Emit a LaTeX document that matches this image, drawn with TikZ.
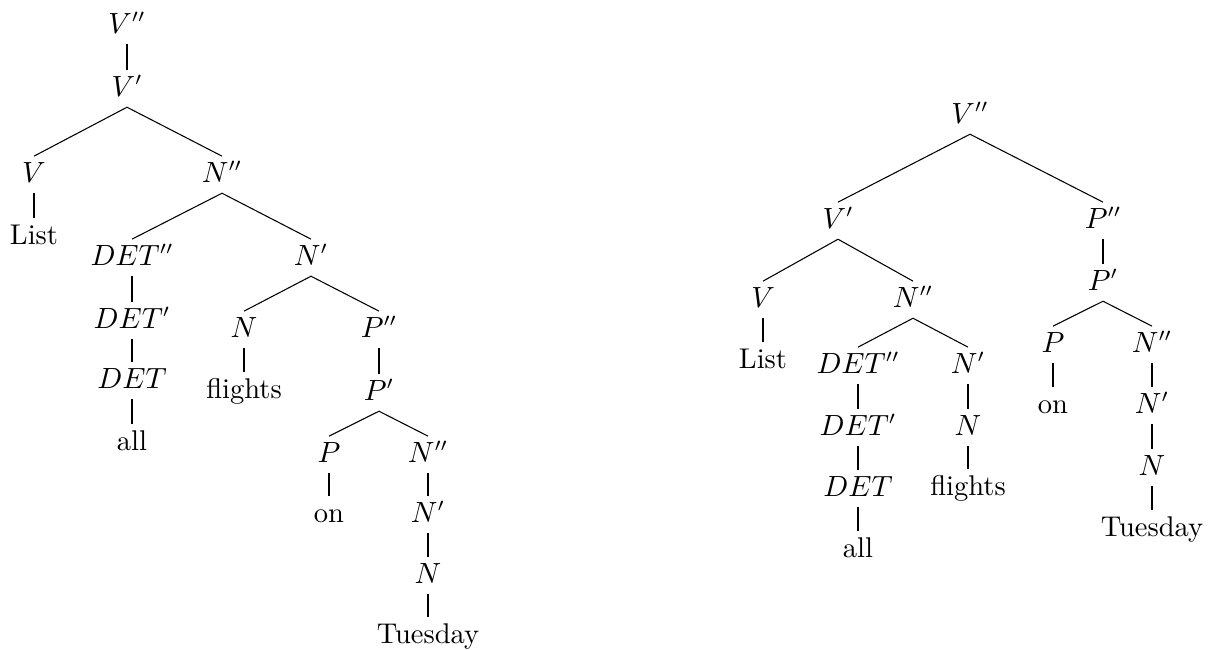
\documentclass[tikz,border=0pt]{standalone}
\begin{document}
\begin{tikzpicture}[x=0.375pt,y=-0.375pt,
  lab/.style={anchor=base, inner sep=2pt, text height=7.5pt, text depth=2pt, font=\fontsize{10.7}{12.8}\selectfont},
  edge/.style={line width=0.4pt}]
\useasboundingbox (0,0) rectangle (1210,649);
% ---------- left tree ----------
\node[lab] (a1) at (127,33) {$V''$};
\node[lab] (a2) at (127,96) {$V'$};
\node[lab] (a3) at (34,182) {$V$};
\node[lab] (a4) at (222,182) {$N''$};
\node[lab] (a5) at (34,244) {List};
\node[lab] (a6) at (132,265) {$DET''$};
\node[lab] (a7) at (311,265) {$N'$};
\node[lab] (a8) at (132,328) {$DET'$};
\node[lab] (a9) at (132,388) {$DET$};
\node[lab] (a10) at (132,450) {all};
\node[lab] (a11) at (244,337) {$N$};
\node[lab] (a12) at (379,337) {$P''$};
\node[lab] (a13) at (244,398) {flights};
\node[lab] (a14) at (379,400) {$P'$};
\node[lab] (a15) at (329,462) {$P$};
\node[lab] (a16) at (428,462) {$N''$};
\node[lab] (a17) at (329,522) {on};
\node[lab] (a18) at (428,522) {$N'$};
\node[lab] (a19) at (428,583) {$N$};
\node[lab] (a20) at (428,643) {Tuesday};
\draw[edge] (a1.south) -- (a2.north);
\draw[edge] (a2.south) -- (a3.north);
\draw[edge] (a2.south) -- (a4.north);
\draw[edge] (a3.south) -- (a5.north);
\draw[edge] (a4.south) -- (a6.north);
\draw[edge] (a4.south) -- (a7.north);
\draw[edge] (a6.south) -- (a8.north);
\draw[edge] (a8.south) -- (a9.north);
\draw[edge] (a9.south) -- (a10.north);
\draw[edge] (a7.south) -- (a11.north);
\draw[edge] (a7.south) -- (a12.north);
\draw[edge] (a11.south) -- (a13.north);
\draw[edge] (a12.south) -- (a14.north);
\draw[edge] (a14.south) -- (a15.north);
\draw[edge] (a14.south) -- (a16.north);
\draw[edge] (a15.south) -- (a17.north);
\draw[edge] (a16.south) -- (a18.north);
\draw[edge] (a18.south) -- (a19.north);
\draw[edge] (a19.south) -- (a20.north);
% ---------- right tree ----------
\node[lab] (b1) at (970,123) {$V''$};
\node[lab] (b2) at (838,228) {$V'$};
\node[lab] (b3) at (1103,228) {$P''$};
\node[lab] (b4) at (763,307) {$V$};
\node[lab] (b5) at (913,307) {$N''$};
\node[lab] (b6) at (1103,290) {$P'$};
\node[lab] (b7) at (763,368) {List};
\node[lab] (b8) at (858,373) {$DET''$};
\node[lab] (b9) at (968,373) {$N'$};
\node[lab] (b10) at (858,435) {$DET'$};
\node[lab] (b11) at (968,435) {$N$};
\node[lab] (b12) at (858,496) {$DET$};
\node[lab] (b13) at (968,495) {flights};
\node[lab] (b14) at (858,557) {all};
\node[lab] (b15) at (1053,352) {$P$};
\node[lab] (b16) at (1152,352) {$N''$};
\node[lab] (b17) at (1053,413) {on};
\node[lab] (b18) at (1152,413) {$N'$};
\node[lab] (b19) at (1152,475) {$N$};
\node[lab] (b20) at (1152,536) {Tuesday};
\draw[edge] (b1.south) -- (b2.north);
\draw[edge] (b1.south) -- (b3.north);
\draw[edge] (b2.south) -- (b4.north);
\draw[edge] (b2.south) -- (b5.north);
\draw[edge] (b3.south) -- (b6.north);
\draw[edge] (b4.south) -- (b7.north);
\draw[edge] (b5.south) -- (b8.north);
\draw[edge] (b5.south) -- (b9.north);
\draw[edge] (b8.south) -- (b10.north);
\draw[edge] (b10.south) -- (b12.north);
\draw[edge] (b12.south) -- (b14.north);
\draw[edge] (b9.south) -- (b11.north);
\draw[edge] (b11.south) -- (b13.north);
\draw[edge] (b6.south) -- (b15.north);
\draw[edge] (b6.south) -- (b16.north);
\draw[edge] (b15.south) -- (b17.north);
\draw[edge] (b16.south) -- (b18.north);
\draw[edge] (b18.south) -- (b19.north);
\draw[edge] (b19.south) -- (b20.north);
\end{tikzpicture}
\end{document}
